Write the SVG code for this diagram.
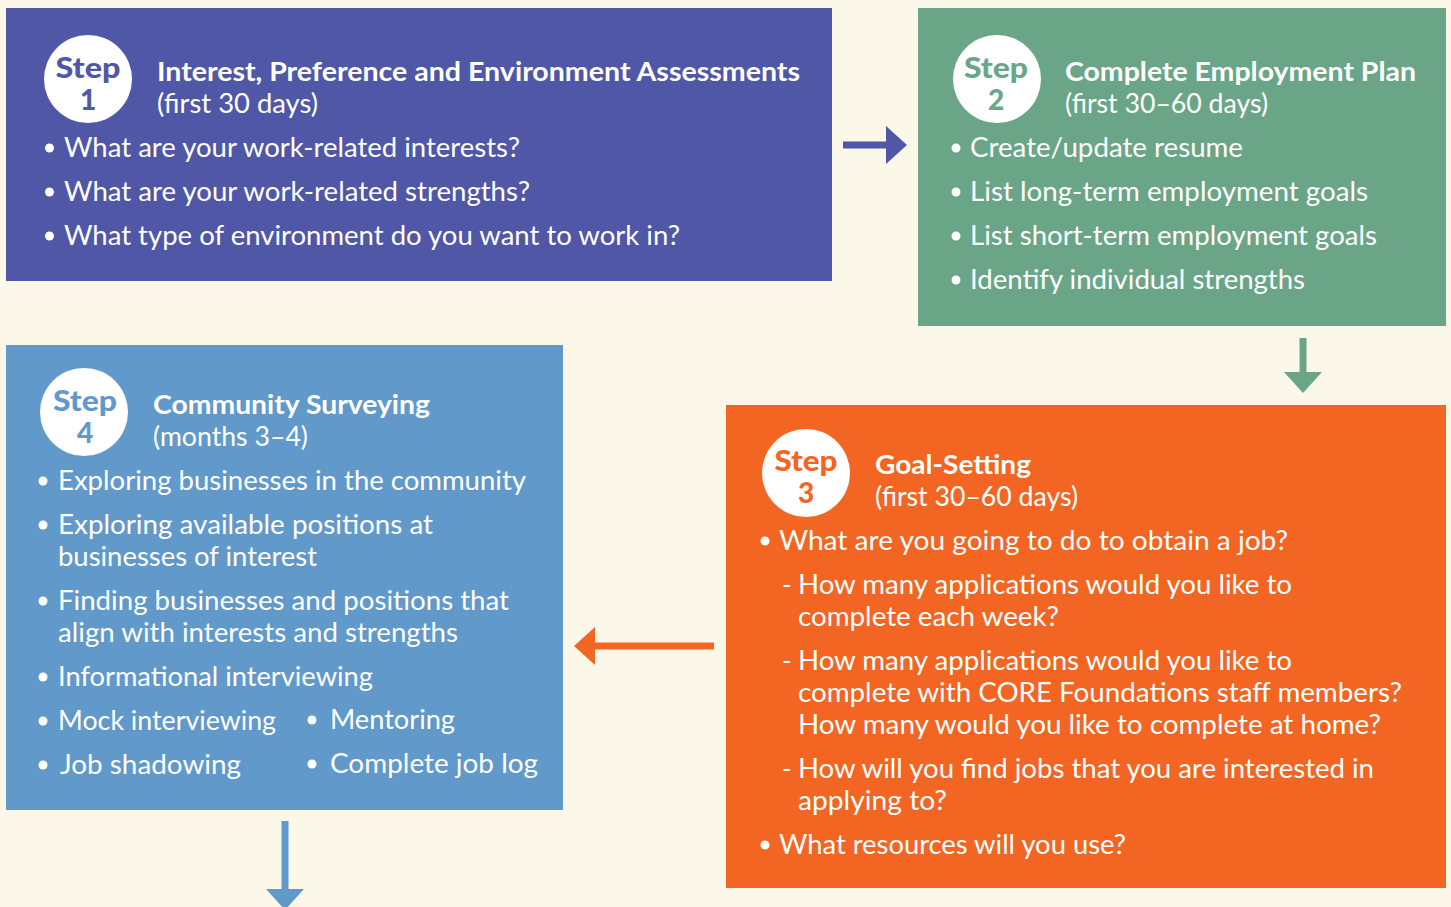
<svg xmlns="http://www.w3.org/2000/svg" width="1451" height="907" viewBox="0 0 1451 907">
<defs>
<style>
.t{font-family:Lato,"Noto Sans","Liberation Sans",sans-serif;font-size:26px;fill:#fff}
.h{font-weight:700}
.st{font-family:Lato,"Noto Sans","Liberation Sans",sans-serif;font-size:28px;font-weight:900;text-anchor:middle}
.circ{fill:#fff}
.b{fill:#fff}
</style>
<marker id="mP" markerUnits="userSpaceOnUse" markerWidth="22" markerHeight="40" refX="0" refY="20" orient="auto"><polygon points="0,1 21,20 0,39" fill="#5057A6"/></marker>
<marker id="mG" markerUnits="userSpaceOnUse" markerWidth="22" markerHeight="40" refX="0" refY="20" orient="auto"><polygon points="0,1 21,20 0,39" fill="#6BA588"/></marker>
<marker id="mO" markerUnits="userSpaceOnUse" markerWidth="22" markerHeight="40" refX="0" refY="20" orient="auto"><polygon points="0,1 21,20 0,39" fill="#F26522"/></marker>
<marker id="mB" markerUnits="userSpaceOnUse" markerWidth="22" markerHeight="40" refX="0" refY="20" orient="auto"><polygon points="0,1 21,20 0,39" fill="#6199CB"/></marker>
</defs>
<rect x="0" y="0" width="1451" height="907" fill="#FBF7E9"/>

<g id="connectors">
<line x1="843" y1="145" x2="886" y2="145" stroke="#5057A6" stroke-width="7" marker-end="url(#mP)"/>
<line x1="1303" y1="338" x2="1303" y2="372" stroke="#6BA588" stroke-width="7" marker-end="url(#mG)"/>
<line x1="714" y1="646" x2="595" y2="646" stroke="#F26522" stroke-width="7" marker-end="url(#mO)"/>
<line x1="285" y1="821" x2="285" y2="889" stroke="#6199CB" stroke-width="7" marker-end="url(#mB)"/>
</g>

<g id="step1">
<rect x="6" y="8" width="826" height="273" fill="#5057A6"/>
<circle class="circ" cx="88" cy="79" r="44"/>
<text class="st" x="88" y="78" fill="#5057A6" textLength="65" lengthAdjust="spacingAndGlyphs">Step</text>
<text class="st" x="88" y="110" fill="#5057A6">1</text>
<text class="t h" x="157" y="81" textLength="643" lengthAdjust="spacingAndGlyphs">Interest, Preference and Environment Assessments</text>
<text class="t" x="157" y="113" textLength="161" lengthAdjust="spacingAndGlyphs">(first 30 days)</text>
<circle class="b" cx="49.5" cy="148" r="4.5"/>
<text class="t" x="64" y="157" textLength="456" lengthAdjust="spacingAndGlyphs">What are your work-related interests?</text>
<circle class="b" cx="49.5" cy="192" r="4.5"/>
<text class="t" x="64" y="201" textLength="466" lengthAdjust="spacingAndGlyphs">What are your work-related strengths?</text>
<circle class="b" cx="49.5" cy="236" r="4.5"/>
<text class="t" x="64" y="245" textLength="616" lengthAdjust="spacingAndGlyphs">What type of environment do you want to work in?</text>
</g>

<g id="step2">
<rect x="918" y="8" width="528" height="318" fill="#6BA588"/>
<circle class="circ" cx="997" cy="79" r="44"/>
<text class="st" x="996" y="78" fill="#6BA588" textLength="64" lengthAdjust="spacingAndGlyphs">Step</text>
<text class="st" x="996" y="110" fill="#6BA588">2</text>
<text class="t h" x="1065" y="81" textLength="351" lengthAdjust="spacingAndGlyphs">Complete Employment Plan</text>
<text class="t" x="1065" y="113" textLength="203" lengthAdjust="spacingAndGlyphs">(first 30–60 days)</text>
<circle class="b" cx="956" cy="148" r="4.5"/>
<text class="t" x="970" y="157" textLength="273" lengthAdjust="spacingAndGlyphs">Create/update resume</text>
<circle class="b" cx="956" cy="192" r="4.5"/>
<text class="t" x="970" y="201" textLength="398" lengthAdjust="spacingAndGlyphs">List long-term employment goals</text>
<circle class="b" cx="956" cy="236" r="4.5"/>
<text class="t" x="970" y="245" textLength="407" lengthAdjust="spacingAndGlyphs">List short-term employment goals</text>
<circle class="b" cx="956" cy="280" r="4.5"/>
<text class="t" x="970" y="289" textLength="335" lengthAdjust="spacingAndGlyphs">Identify individual strengths</text>
</g>

<g id="step3">
<rect x="726" y="405" width="720" height="483" fill="#F26522"/>
<circle class="circ" cx="806" cy="473" r="44"/>
<text class="st" x="806" y="471" fill="#F26522" textLength="63" lengthAdjust="spacingAndGlyphs">Step</text>
<text class="st" x="806" y="503" fill="#F26522">3</text>
<text class="t h" x="875" y="474" textLength="156" lengthAdjust="spacingAndGlyphs">Goal-Setting</text>
<text class="t" x="875" y="506" textLength="203" lengthAdjust="spacingAndGlyphs">(first 30–60 days)</text>
<circle class="b" cx="765" cy="541" r="4.5"/>
<text class="t" x="779" y="550" textLength="509" lengthAdjust="spacingAndGlyphs">What are you going to do to obtain a job?</text>
<text class="t" x="782" y="594">-</text>
<text class="t" x="798" y="594" textLength="494" lengthAdjust="spacingAndGlyphs">How many applications would you like to</text>
<text class="t" x="798" y="626" textLength="261" lengthAdjust="spacingAndGlyphs">complete each week?</text>
<text class="t" x="782" y="670">-</text>
<text class="t" x="798" y="670" textLength="494" lengthAdjust="spacingAndGlyphs">How many applications would you like to</text>
<text class="t" x="798" y="702" textLength="604" lengthAdjust="spacingAndGlyphs">complete with CORE Foundations staff members?</text>
<text class="t" x="798" y="734" textLength="583" lengthAdjust="spacingAndGlyphs">How many would you like to complete at home?</text>
<text class="t" x="782" y="778">-</text>
<text class="t" x="798" y="778" textLength="576" lengthAdjust="spacingAndGlyphs">How will you find jobs that you are interested in</text>
<text class="t" x="798" y="810" textLength="149" lengthAdjust="spacingAndGlyphs">applying to?</text>
<circle class="b" cx="765" cy="845" r="4.5"/>
<text class="t" x="779" y="854" textLength="347" lengthAdjust="spacingAndGlyphs">What resources will you use?</text>
</g>

<g id="step4">
<rect x="6" y="345" width="557" height="465" fill="#6199CB"/>
<circle class="circ" cx="84" cy="412" r="44"/>
<text class="st" x="85" y="411" fill="#6199CB" textLength="64" lengthAdjust="spacingAndGlyphs">Step</text>
<text class="st" x="85" y="443" fill="#6199CB">4</text>
<text class="t h" x="153" y="414" textLength="277" lengthAdjust="spacingAndGlyphs">Community Surveying</text>
<text class="t" x="153" y="446" textLength="155" lengthAdjust="spacingAndGlyphs">(months 3–4)</text>
<circle class="b" cx="43" cy="481" r="4.5"/>
<text class="t" x="58" y="490" textLength="468" lengthAdjust="spacingAndGlyphs">Exploring businesses in the community</text>
<circle class="b" cx="43" cy="525" r="4.5"/>
<text class="t" x="58" y="534" textLength="375" lengthAdjust="spacingAndGlyphs">Exploring available positions at</text>
<text class="t" x="58" y="566" textLength="259" lengthAdjust="spacingAndGlyphs">businesses of interest</text>
<circle class="b" cx="43" cy="601" r="4.5"/>
<text class="t" x="58" y="610" textLength="451" lengthAdjust="spacingAndGlyphs">Finding businesses and positions that</text>
<text class="t" x="58" y="642" textLength="400" lengthAdjust="spacingAndGlyphs">align with interests and strengths</text>
<circle class="b" cx="43" cy="677" r="4.5"/>
<text class="t" x="58" y="686" textLength="315" lengthAdjust="spacingAndGlyphs">Informational interviewing</text>
<circle class="b" cx="43" cy="721" r="4.5"/>
<text class="t" x="58" y="730" textLength="218" lengthAdjust="spacingAndGlyphs">Mock interviewing</text>
<circle class="b" cx="312" cy="720" r="4.5"/>
<text class="t" x="330" y="729" textLength="125" lengthAdjust="spacingAndGlyphs">Mentoring</text>
<circle class="b" cx="43" cy="765" r="4.5"/>
<text class="t" x="60" y="774" textLength="181" lengthAdjust="spacingAndGlyphs">Job shadowing</text>
<circle class="b" cx="312" cy="764" r="4.5"/>
<text class="t" x="330" y="773" textLength="208" lengthAdjust="spacingAndGlyphs">Complete job log</text>
</g>
</svg>
